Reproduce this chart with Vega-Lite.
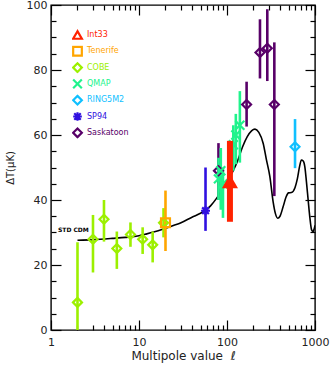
{
  "$schema": "https://vega.github.io/schema/vega-lite/v6.json",
  "width": 264,
  "height": 325,
  "autosize": {"type": "none"},
  "padding": {"left": 51, "top": 5, "right": 16, "bottom": 35},
  "background": "white",
  "config": {
    "view": {"stroke": "#000", "strokeWidth": 1.4},
    "axis": {"domain": false, "grid": false, "tickColor": "#000", "tickWidth": 1.2, "labelFont": "DejaVu Sans", "labelFontSize": 11, "labelColor": "#222", "titleFont": "DejaVu Sans", "titleFontWeight": "normal", "titleColor": "#222"},
    "legend": {"orient": "none", "legendX": 21, "legendY": 24, "symbolSize": 75, "symbolStrokeWidth": 2.2, "labelFont": "DejaVu Sans", "labelFontSize": 8, "labelOffset": 4, "rowPadding": 4.3, "clipHeight": 12}
  },
  "datasets": {
    "curve": [
      {"l": 2, "dT": 27.6}, {"l": 3, "dT": 27.8}, {"l": 5, "dT": 28.2}, {"l": 7, "dT": 28.5},
      {"l": 10, "dT": 29.0}, {"l": 12, "dT": 29.5}, {"l": 15, "dT": 30.2}, {"l": 20, "dT": 31.3},
      {"l": 25, "dT": 32.2}, {"l": 30, "dT": 33.0}, {"l": 40, "dT": 34.7}, {"l": 50, "dT": 35.9},
      {"l": 57, "dT": 36.8}, {"l": 65, "dT": 38.2}, {"l": 76, "dT": 40.5}, {"l": 90, "dT": 43.5},
      {"l": 100, "dT": 45.5}, {"l": 115, "dT": 48.5}, {"l": 134, "dT": 52.5}, {"l": 150, "dT": 56.3},
      {"l": 170, "dT": 59.5}, {"l": 190, "dT": 61.3}, {"l": 208, "dT": 61.8}, {"l": 230, "dT": 60.8},
      {"l": 258, "dT": 57.4}, {"l": 280, "dT": 52.5}, {"l": 307, "dT": 47.2}, {"l": 334, "dT": 39.5},
      {"l": 355, "dT": 35.8}, {"l": 377, "dT": 34.4}, {"l": 400, "dT": 35.0}, {"l": 434, "dT": 37.9},
      {"l": 470, "dT": 41.0}, {"l": 500, "dT": 42.2}, {"l": 540, "dT": 42.3}, {"l": 592, "dT": 43.8},
      {"l": 630, "dT": 46.5}, {"l": 670, "dT": 50.5}, {"l": 700, "dT": 52.3}, {"l": 735, "dT": 52.0},
      {"l": 766, "dT": 50.3}, {"l": 800, "dT": 45.5}, {"l": 836, "dT": 40.0}, {"l": 875, "dT": 34.5},
      {"l": 915, "dT": 30.8}, {"l": 950, "dT": 30.3}, {"l": 980, "dT": 31.2}, {"l": 1000, "dT": 32.2}
    ],
    "obs": [
      {"series": "COBE", "l": 2, "dT": 8.5, "lo": 0, "hi": 27},
      {"series": "COBE", "l": 3, "dT": 27.9, "lo": 17.7, "hi": 35.4},
      {"series": "COBE", "l": 4, "dT": 34.1, "lo": 27.2, "hi": 40},
      {"series": "COBE", "l": 5.6, "dT": 25.1, "lo": 18.8, "hi": 30.3},
      {"series": "COBE", "l": 8, "dT": 29.4, "lo": 25.6, "hi": 33.1},
      {"series": "COBE", "l": 11, "dT": 27.9, "lo": 23.4, "hi": 31.6},
      {"series": "COBE", "l": 14.3, "dT": 26.2, "lo": 20.8, "hi": 30.3},
      {"series": "COBE", "l": 19, "dT": 33, "lo": 28.5, "hi": 37.5},
      {"series": "Tenerife", "l": 20, "dT": 33, "lo": 24.3, "hi": 42.9},
      {"series": "Saskatoon", "l": 80, "dT": 49, "lo": 40, "hi": 57.5},
      {"series": "Saskatoon", "l": 167, "dT": 69.4, "lo": 62.6, "hi": 76.4},
      {"series": "Saskatoon", "l": 237, "dT": 85.4, "lo": 77.4, "hi": 95.6},
      {"series": "Saskatoon", "l": 287, "dT": 86.7, "lo": 76.6, "hi": 98.7},
      {"series": "Saskatoon", "l": 345, "dT": 69.4, "lo": 41.2, "hi": 88.5},
      {"series": "SP94", "l": 57, "dT": 36.7, "lo": 30.5, "hi": 50},
      {"series": "QMAP", "l": 80, "dT": 46.5, "lo": 40, "hi": 53},
      {"series": "QMAP", "l": 85, "dT": 49, "lo": 37, "hi": 56},
      {"series": "QMAP", "l": 90, "dT": 45, "lo": 34.5, "hi": 50},
      {"series": "QMAP", "l": 118, "dT": 57, "lo": 49, "hi": 63},
      {"series": "QMAP", "l": 126, "dT": 60, "lo": 51, "hi": 66.5},
      {"series": "QMAP", "l": 140, "dT": 63, "lo": 51.5, "hi": 73.5},
      {"series": "RING5M2", "l": 593, "dT": 56.4, "lo": 49.8, "hi": 64.9},
      {"series": "Int33", "l": 108, "dT": 45.8, "lo": 33.3, "hi": 58.2}
    ],
    "label": [{"l": 1.2, "dT": 30.8, "text": "STD CDM"}]
  },
  "resolve": {"axis": {"x": "independent", "y": "independent"}},
  "layer": [
    {
      "data": {"name": "curve"},
      "mark": {"type": "line", "color": "#000", "strokeWidth": 1.6, "interpolate": "monotone", "clip": true},
      "encoding": {
        "x": {"field": "l", "type": "quantitative", "scale": {"type": "log", "domain": [1, 1000], "nice": false},
          "axis": {"orient": "bottom", "values": [1, 10, 100, 1000], "tickSize": -10, "labelPadding": 16, "format": "d", "title": "Multipole value \u00a0\u2113", "titleFontSize": 12, "titlePadding": 3, "labelFlush": false, "labelOverlap": false}},
        "y": {"field": "dT", "type": "quantitative", "scale": {"domain": [0, 100], "nice": false},
          "axis": {"orient": "left", "values": [0, 20, 40, 60, 80, 100], "tickSize": -10, "labelPadding": 14, "title": "\u0394T(\u03bcK)", "titleFontSize": 10, "titlePadding": 11, "labelFlush": false, "labelOverlap": false}}
      }
    },
    {
      "data": {"name": "obs"},
      "transform": [{"filter": "datum.series !== 'Int33'"}],
      "mark": {"type": "rule", "strokeWidth": 2.6},
      "encoding": {
        "x": {"field": "l", "type": "quantitative",
          "axis": {"orient": "bottom", "values": [2,3,4,5,6,7,8,9,20,30,40,50,60,70,80,90,200,300,400,500,600,700,800,900], "tickSize": -5, "labels": false, "title": null}},
        "y": {"field": "lo", "type": "quantitative",
          "axis": {"orient": "left", "values": [5,10,15,25,30,35,45,50,55,65,70,75,85,90,95], "tickSize": -5, "labels": false, "title": null}},
        "y2": {"field": "hi"},
        "stroke": {"field": "series", "type": "nominal",
          "scale": {"domain": ["Tenerife", "COBE", "QMAP", "RING5M2", "SP94", "Saskatoon"],
            "range": ["#ffa500", "#9cf000", "#20f38c", "#10c0ff", "#3010e0", "#580068"]},
          "legend": null}
      }
    },
    {
      "data": {"name": "obs"},
      "transform": [{"filter": "datum.series !== 'Int33'"}],
      "mark": {"type": "point", "filled": false, "strokeWidth": 2.2, "size": 80, "opacity": 1},
      "encoding": {
        "x": {"field": "l", "type": "quantitative",
          "axis": {"orient": "top", "values": [1, 10, 100, 1000], "tickSize": -10, "labels": false, "title": null}},
        "y": {"field": "dT", "type": "quantitative",
          "axis": {"orient": "right", "values": [0, 20, 40, 60, 80, 100], "tickSize": -10, "labels": false, "title": null}},
        "shape": {"field": "series", "type": "nominal",
          "scale": {"domain": ["Int33", "Tenerife", "COBE", "QMAP", "RING5M2", "SP94", "Saskatoon"],
            "range": ["triangle-up", "square", "diamond", "M-1,-1L1,1M-1,1L1,-1", "diamond", "M-1,0L1,0M0,-1L0,1M-0.75,-0.75L0.75,0.75M-0.75,0.75L0.75,-0.75", "diamond"]},
          "legend": {"title": null, "labelColor": {"expr": "scale('color', datum.value)"}}},
        "color": {"field": "series", "type": "nominal",
          "scale": {"domain": ["Int33", "Tenerife", "COBE", "QMAP", "RING5M2", "SP94", "Saskatoon"],
            "range": ["#ff2200", "#ffa500", "#9cf000", "#20f38c", "#10c0ff", "#3010e0", "#580068"]},
          "legend": {"title": null, "labelColor": {"expr": "scale('color', datum.value)"}}}
      }
    },
    {
      "data": {"name": "obs"},
      "transform": [{"filter": "datum.series === 'Int33'"}],
      "mark": {"type": "rule", "strokeWidth": 6, "color": "#ff2200"},
      "encoding": {
        "x": {"field": "l", "type": "quantitative",
          "axis": {"orient": "top", "values": [2,3,4,5,6,7,8,9,20,30,40,50,60,70,80,90,200,300,400,500,600,700,800,900], "tickSize": -5, "labels": false, "title": null}},
        "y": {"field": "lo", "type": "quantitative",
          "axis": {"orient": "right", "values": [5,10,15,25,30,35,45,50,55,65,70,75,85,90,95], "tickSize": -5, "labels": false, "title": null}},
        "y2": {"field": "hi"}
      }
    },
    {
      "data": {"name": "obs"},
      "transform": [{"filter": "datum.series === 'Int33'"}],
      "mark": {"type": "point", "shape": "triangle-up", "filled": true, "size": 260, "color": "#ff2200", "opacity": 1},
      "encoding": {
        "x": {"field": "l", "type": "quantitative", "axis": null},
        "y": {"field": "dT", "type": "quantitative", "axis": null}
      }
    },
    {
      "data": {"name": "label"},
      "mark": {"type": "text", "align": "left", "baseline": "middle", "font": "DejaVu Sans", "fontSize": 6, "fontWeight": "bold", "color": "#000"},
      "encoding": {
        "x": {"field": "l", "type": "quantitative", "axis": null},
        "y": {"field": "dT", "type": "quantitative", "axis": null},
        "text": {"field": "text"}
      }
    }
  ]
}
